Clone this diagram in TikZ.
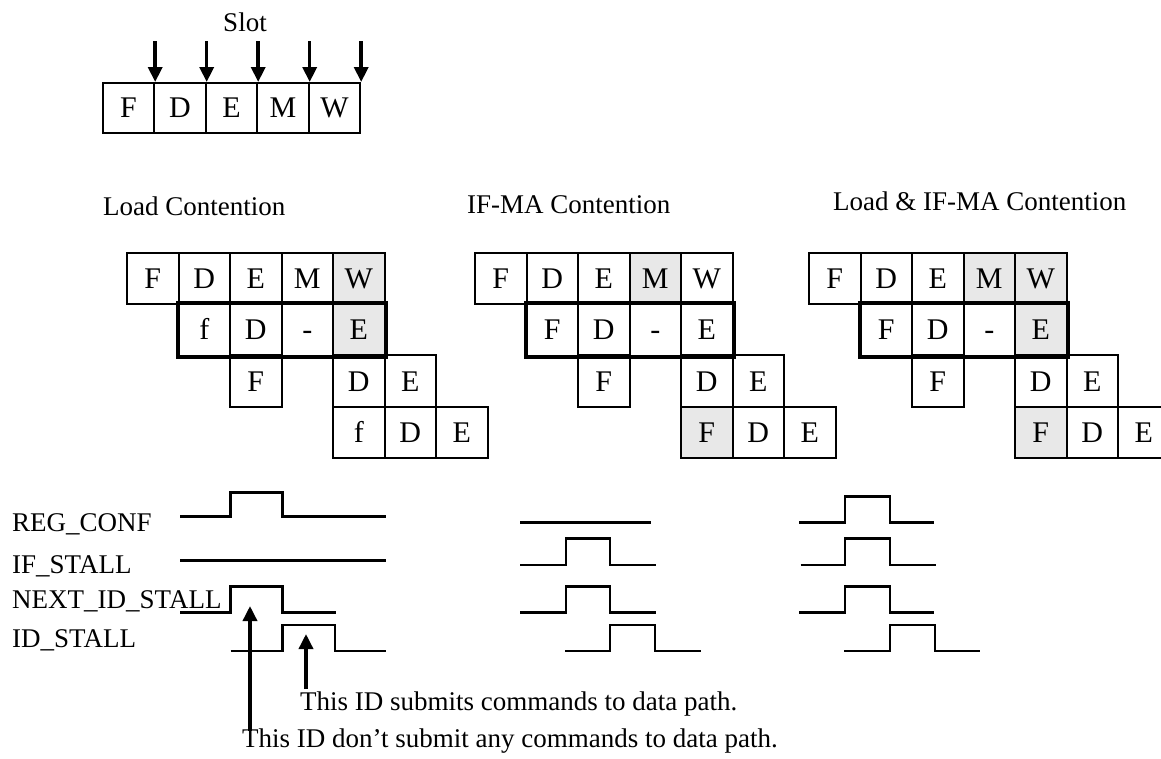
\documentclass[tikz,border=0pt]{standalone}
\usepackage{fontspec}
\setmainfont{Liberation Serif}
\usetikzlibrary{arrows.meta}
\definecolor{shade}{RGB}{232,232,232}
\tikzset{
  cell/.style={draw, line width=2pt, minimum width=51.5pt, minimum height=51.25pt, inner sep=0pt,
    text height=19.8pt, text depth=0pt, font=\fontsize{30}{32}\selectfont},
  slotcell/.style={cell, minimum height=50pt},
  hot/.style={cell, fill=shade},
  thickbox/.style={line width=4pt},
  wave/.style={line width=2.5pt},
  bigarrow/.style={line width=3.5pt, -{Triangle[width=14pt,length=15pt]}},
  lbl/.style={inner sep=0pt, anchor=base west, font=\fontsize{27}{30}\selectfont},
  ttl/.style={lbl},
}
\begin{document}
\begin{tikzpicture}[x=1pt,y=-1pt]
\useasboundingbox (0,0) rectangle (1161,758);
\clip (0,0) rectangle (1161,758);

% ---------- slot row ----------
\node[inner sep=0pt, anchor=base, font=\fontsize{27}{30}\selectfont] (slot) at (245,31.7) {Slot};
\node[slotcell] (s1) at (128.45,108) {F};
\node[slotcell] (s2) at (179.95,108) {D};
\node[slotcell] (s3) at (231.45,108) {E};
\node[slotcell] (s4) at (282.95,108) {M};
\node[slotcell] (s5) at (334.45,108) {W};
\foreach \n in {s1,s2,s3,s4,s5}{
  \coordinate (\n top) at ([yshift=41pt]\n.north east);
  \draw[bigarrow] (\n top) -- (\n.north east);
}

% ---------- titles ----------
\node[ttl] (t1) at (103,215) {Load Contention};
\node[ttl] (t2) at (467,213) {IF-MA Contention};
\node[ttl] (t3) at (833,210.7) {Load \& IF-MA Contention};

% ---------- grid 1: Load contention ----------
\node[cell] (a00) at (152.75,278.6) {F};
\node[cell] (a01) at (204.25,278.6) {D};
\node[cell] (a02) at (255.75,278.6) {E};
\node[cell] (a03) at (307.25,278.6) {M};
\node[hot]  (a04) at (358.75,278.6) {W};
\node[cell] (a11) at (204.25,329.9) {f};
\node[cell] (a12) at (255.75,329.9) {D};
\node[cell] (a13) at (307.25,329.9) {-};
\node[hot]  (a14) at (358.75,329.9) {E};
\node[cell] (a22) at (255.75,381.1) {F};
\node[cell] (a24) at (358.75,381.1) {D};
\node[cell] (a25) at (410.25,381.1) {E};
\node[cell] (a34) at (358.75,432.4) {f};
\node[cell] (a35) at (410.25,432.4) {D};
\node[cell] (a36) at (461.75,432.4) {E};
\draw[thickbox] (a11.north west) rectangle (a14.south east);

% ---------- grid 2: IF-MA contention ----------
\node[cell] (b00) at (500.75,278.6) {F};
\node[cell] (b01) at (552.25,278.6) {D};
\node[cell] (b02) at (603.75,278.6) {E};
\node[hot]  (b03) at (655.25,278.6) {M};
\node[cell] (b04) at (706.75,278.6) {W};
\node[cell] (b11) at (552.25,329.9) {F};
\node[cell] (b12) at (603.75,329.9) {D};
\node[cell] (b13) at (655.25,329.9) {-};
\node[cell] (b14) at (706.75,329.9) {E};
\node[cell] (b22) at (603.75,381.1) {F};
\node[cell] (b24) at (706.75,381.1) {D};
\node[cell] (b25) at (758.25,381.1) {E};
\node[hot]  (b34) at (706.75,432.4) {F};
\node[cell] (b35) at (758.25,432.4) {D};
\node[cell] (b36) at (809.75,432.4) {E};
\draw[thickbox] (b11.north west) rectangle (b14.south east);

% ---------- grid 3: Load & IF-MA contention ----------
\node[cell] (c00) at (834.75,278.6) {F};
\node[cell] (c01) at (886.25,278.6) {D};
\node[cell] (c02) at (937.75,278.6) {E};
\node[hot]  (c03) at (989.25,278.6) {M};
\node[hot]  (c04) at (1040.75,278.6) {W};
\node[cell] (c11) at (886.25,329.9) {F};
\node[cell] (c12) at (937.75,329.9) {D};
\node[cell] (c13) at (989.25,329.9) {-};
\node[hot]  (c14) at (1040.75,329.9) {E};
\node[cell] (c22) at (937.75,381.1) {F};
\node[cell] (c24) at (1040.75,381.1) {D};
\node[cell] (c25) at (1092.25,381.1) {E};
\node[hot]  (c34) at (1040.75,432.4) {F};
\node[cell] (c35) at (1092.25,432.4) {D};
\node[cell] (c36) at (1143.75,432.4) {E};
\draw[thickbox] (c11.north west) rectangle (c14.south east);

% ---------- signal labels ----------
\node[lbl] (l1) at (12,531.7) {REG\_CONF};
\node[lbl] (l2) at (12,573) {IF\_STALL};
\node[lbl] (l3) at (12,608) {NEXT\_ID\_STALL};
\node[lbl] (l4) at (12,647) {ID\_STALL};

% ---------- waveforms, load contention ----------
\draw[wave] (180,516.7) -- (230.7,516.7) -- (230.7,492.7) -- (282.7,492.7) -- (282.7,516.7) -- (385.7,516.7);
\draw[wave] (180,560.7) -- (385.7,560.7);
\draw[wave] (180,612.7) -- (230.7,612.7) -- (230.7,586.7) -- (282.7,586.7) -- (282.7,612.7) -- (335.7,612.7);
\draw[wave] (230.7,651) -- (282.7,651) -- (282.7,625) -- (335,625) -- (335,651) -- (385.7,651);

% ---------- waveforms, IF-MA contention ----------
\draw[wave] (520,522.7) -- (650.7,522.7);
\draw[wave] (520,565) -- (566,565) -- (566,538.3) -- (610,538.3) -- (610,565) -- (655.7,565);
\draw[wave] (520,612.7) -- (566,612.7) -- (566,586.7) -- (610,586.7) -- (610,612.7) -- (655.7,612.7);
\draw[wave] (565.3,651) -- (610,651) -- (610,625) -- (655,625) -- (655,651) -- (700.7,651);

% ---------- waveforms, load & IF-MA contention ----------
\draw[wave] (799,522.7) -- (845,522.7) -- (845,496.7) -- (890,496.7) -- (890,522.7) -- (934,522.7);
\draw[wave] (800.7,565) -- (845,565) -- (845,538.3) -- (890,538.3) -- (890,565) -- (935.7,565);
\draw[wave] (799,612.7) -- (845,612.7) -- (845,586.7) -- (890,586.7) -- (890,612.7) -- (934,612.7);
\draw[wave] (844.3,651) -- (890,651) -- (890,625) -- (935,625) -- (935,651) -- (980,651);

% ---------- annotations ----------
\node[lbl] (n1) at (300,710) {This ID submits commands to data path.};
\node[lbl] (n2) at (242,747) {This ID don’t submit any commands to data path.};
\coordinate (p1from) at (306,689);
\coordinate (p1to) at (306,634);
\coordinate (p2from) at (250,731);
\coordinate (p2to) at (250,606);
\draw[bigarrow] (p1from) -- (p1to);
\draw[bigarrow] (p2from) -- (p2to);
\end{tikzpicture}
\end{document}
